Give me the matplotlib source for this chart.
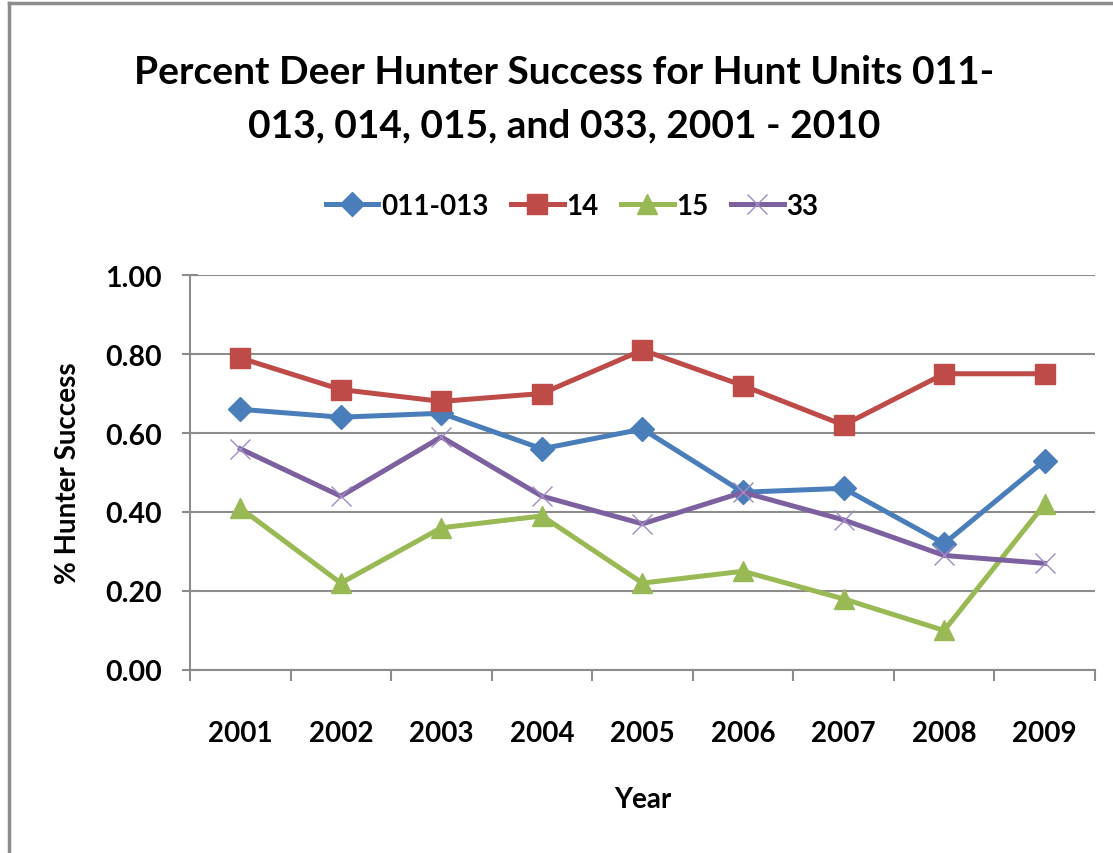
import matplotlib.pyplot as plt
from matplotlib.lines import Line2D

years = ["2001", "2002", "2003", "2004", "2005", "2006", "2007", "2008", "2009"]
unit_011_013 = [0.66, 0.64, 0.65, 0.56, 0.61, 0.45, 0.46, 0.32, 0.53]
unit_14 = [0.79, 0.71, 0.68, 0.70, 0.81, 0.72, 0.62, 0.75, 0.75]
unit_15 = [0.41, 0.22, 0.36, 0.39, 0.22, 0.25, 0.18, 0.10, 0.42]
unit_33 = [0.56, 0.44, 0.59, 0.44, 0.37, 0.45, 0.38, 0.29, 0.27]
y_ticks = [0.0, 0.2, 0.4, 0.6, 0.8, 1.0]

plt.rcParams['font.family'] = ['Lato', 'DejaVu Sans']
plt.rcParams['font.weight'] = 'bold'

fig = plt.figure(figsize=(11.13, 8.54), dpi=100)
ax = fig.add_axes([0.1707, 0.2143, 0.8131, 0.4625])

x = range(len(years))
ax.plot(x, unit_011_013, color="#4A7EBB", lw=3.6, marker="D", ms=12, label="011-013")
ax.plot(x, unit_14, color="#BE4B48", lw=3.6, marker="s", ms=14, label="14")
ax.plot(x, unit_15, color="#98B954", lw=3.6, marker="^", ms=15, label="15")
ax.plot(x, unit_33, color="#7D60A0", lw=3.6, marker="x", ms=15, mew=1,
        mec="#A08CC4", label="33")

ax.set_xlim(-0.5, len(years) - 0.5)
ax.set_ylim(0, 1.0)
ax.set_yticks(y_ticks)
ax.set_yticklabels([f"{v:.2f}" for v in y_ticks])
ax.set_xticks(list(x))
ax.set_xticklabels(years)
ax.set_xticks([i - 0.5 for i in range(len(years) + 1)], minor=True)

ax.grid(axis="y", color="#8C8C8C", lw=1.5)
ax.set_axisbelow(True)
for s in ["top", "right"]:
    ax.spines[s].set_visible(False)
for s in ["left", "bottom"]:
    ax.spines[s].set_color("#8C8C8C")
    ax.spines[s].set_linewidth(1.5)

ax.tick_params(axis="x", which="major", length=0, pad=36, labelsize=20)
ax.tick_params(axis="x", which="minor", length=8, width=1.5, color="#8C8C8C", direction="out")
ax.tick_params(axis="y", length=11, width=1.5, color="#8C8C8C", direction="inout", pad=15, labelsize=20.5)

ax.set_xlabel("Year", fontsize=20, fontweight="bold", labelpad=29)
ax.set_ylabel("% Hunter Success", fontsize=20, fontweight="bold", labelpad=17)

fig.text(0.507, 0.915, "Percent Deer Hunter Success for Hunt Units 011-",
         ha="center", va="center", fontsize=28, fontweight="bold")
fig.text(0.507, 0.853, "013, 014, 015, and 033, 2001 - 2010",
         ha="center", va="center", fontsize=28, fontweight="bold")

fig.legend(loc="center", bbox_to_anchor=(0.514, 0.758), ncol=4, frameon=False,
           fontsize=20, handlelength=1.9, handletextpad=0.1, columnspacing=0.8)

# outer chart border (left and top visible)
fig.add_artist(Line2D([0.0085, 0.0085], [0, 0.995], color="#8C8C8C", lw=2.5, transform=fig.transFigure))
fig.add_artist(Line2D([0.0085, 1.0], [0.995, 0.995], color="#8C8C8C", lw=2.5, transform=fig.transFigure))

fig.savefig("out.png", dpi=100)
